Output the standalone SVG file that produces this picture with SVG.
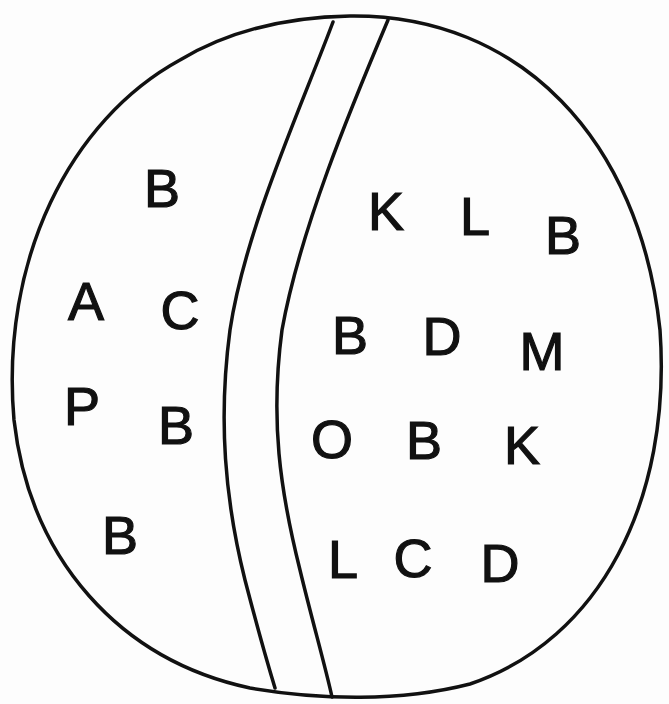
<svg xmlns="http://www.w3.org/2000/svg" width="669" height="704" viewBox="0 0 669 704">
<style>
.ln{fill:none;stroke:#111;stroke-width:3.5;stroke-linecap:round}
.t{font-family:"Liberation Sans",Arial,sans-serif;font-size:54px;fill:#111;stroke:#111;stroke-width:1.2;text-anchor:middle}
</style>
<rect width="669" height="704" fill="#fdfdfd"/>
<path class="ln" d="M350,16 C520,14 640,140 660,330 C672,500 600,640 470,684 C400,702 320,700 250,688 C120,660 30,560 14,420 C0,260 70,120 180,60 C230,30 290,17 350,16 Z"/>
<g id="dividers">
<path class="ln" d="M333,22 C300,110 245,230 230,330 C218,420 225,500 245,580 C258,630 268,665 275,688"/>
<path class="ln" d="M388,20 C350,110 300,230 282,330 C270,420 280,490 300,570 C312,620 325,665 332,697"/>
</g>
<g id="left">
<text class="t" x="162" y="207">B</text>
<text class="t" x="86" y="320">A</text>
<text class="t" x="180" y="329">C</text>
<text class="t" x="82" y="425">P</text>
<text class="t" x="176" y="444">B</text>
<text class="t" x="120" y="554">B</text>
</g>
<g id="right">
<text class="t" x="386" y="230">K</text>
<text class="t" x="475" y="235">L</text>
<text class="t" x="563" y="254">B</text>
<text class="t" x="350" y="354">B</text>
<text class="t" x="442" y="355">D</text>
<text class="t" x="542" y="370">M</text>
<text class="t" x="332" y="458">O</text>
<text class="t" x="424" y="459">B</text>
<text class="t" x="522" y="464">K</text>
<text class="t" x="343" y="578">L</text>
<text class="t" x="413" y="577">C</text>
<text class="t" x="500" y="582">D</text>
</g>
</svg>
